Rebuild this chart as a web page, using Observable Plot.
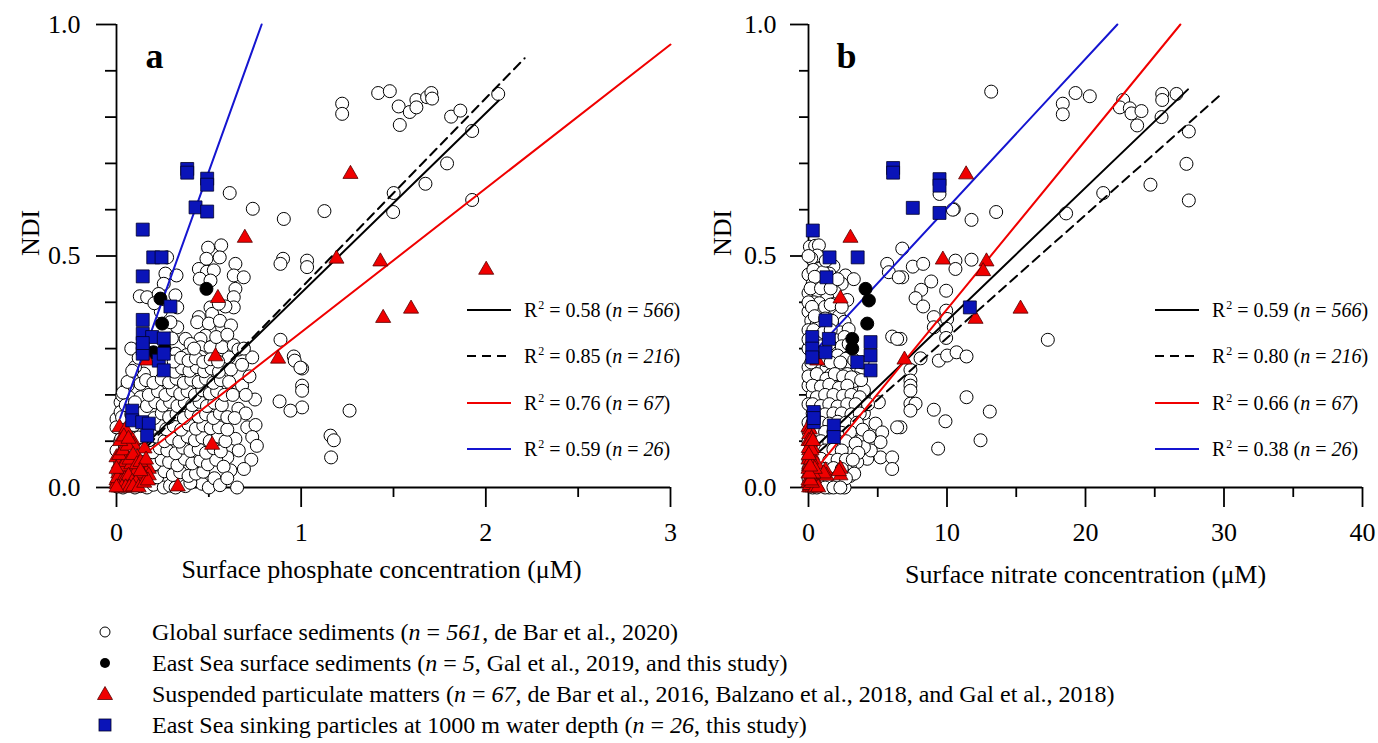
<!DOCTYPE html>
<html><head><meta charset="utf-8">
<script src="https://cdn.jsdelivr.net/npm/d3@7"></script>
<script src="https://cdn.jsdelivr.net/npm/@observablehq/plot@0.6"></script>
<style>
body{margin:0;background:#fff;}
#wrap{position:relative;width:1378px;height:743px;font-family:"Liberation Serif","Times New Roman",serif;color:#000;overflow:hidden;}
.panel{position:absolute;top:0;}
.panel svg{max-width:none!important;}
.leg{position:absolute;display:flex;align-items:center;height:26px;font-size:20px;white-space:nowrap;}
.sup{font-size:12px;position:relative;top:-8px;margin-left:1px;}
.brow{position:absolute;display:flex;align-items:center;height:30px;font-size:24px;white-space:nowrap;}
</style></head>
<body><div id="wrap"></div>
<script>
// ---------- tick values ----------
const yTicksMajor = [0, 0.5, 1];
const yTicksMinor = [0.1, 0.2, 0.3, 0.4, 0.6, 0.7, 0.8, 0.9];
const xTicksMajorA = [0, 1, 2, 3];
const xTicksMinorA = [0.5, 1.5, 2.5];
const xTicksMajorB = [0, 10, 20, 30, 40];
const xTicksMinorB = [5, 15, 25, 35];

// ---------- panel a: NDI vs surface phosphate ----------
const circlesA = [
[1.417,0.852],[1.480,0.856],[1.222,0.829],[1.222,0.807],[1.528,0.823],[1.588,0.811],[1.624,0.837],[1.624,0.821],[1.682,0.843],[1.705,0.852],[1.709,0.840],[1.534,0.783],[1.812,0.801],[1.862,0.814],[2.067,0.850],[1.926,0.770],[1.790,0.700],[1.673,0.656],[1.501,0.636],[1.498,0.595],[1.926,0.621],[1.126,0.597],[1.032,0.490],[1.032,0.476],[1.005,0.257],[1.005,0.220],[1.005,0.209],[1.005,0.173],[1.262,0.166],[1.159,0.112],[1.177,0.102],[1.162,0.065],
[0.613,0.636],[0.738,0.602],[0.906,0.580],[0.902,0.494],[0.888,0.483],[0.888,0.319],[0.960,0.283],[0.965,0.274],[0.996,0.259],[0.883,0.186],[0.942,0.166],
[0.708,0.130],[0.753,0.135],[0.735,0.109],[0.644,0.105],[0.662,0.080],[0.600,0.065],[0.617,0.037],[0.653,0.000],[0.464,0.008],[0.735,0.281],[0.608,0.281],
[0.496,0.518],[0.567,0.523],[0.487,0.494],[0.559,0.497],[0.446,0.472],[0.490,0.466],[0.527,0.469],[0.644,0.483],[0.635,0.458],[0.689,0.454],[0.451,0.451],[0.509,0.447],[0.274,0.497],[0.265,0.462],[0.325,0.458],[0.256,0.440],[0.644,0.429],[0.635,0.411],[0.319,0.415],[0.126,0.413],[0.166,0.411],[0.509,0.389],[0.518,0.375],[0.635,0.389],[0.590,0.391],[0.554,0.397],[0.329,0.389],[0.446,0.368],[0.437,0.357],[0.500,0.354],[0.572,0.346],[0.329,0.346],[0.292,0.357],[0.482,0.328],[0.455,0.321],[0.374,0.321],[0.401,0.310],[0.455,0.303],[0.509,0.303],[0.572,0.303],[0.635,0.307],[0.319,0.289],[0.380,0.286],[0.455,0.282],[0.300,0.322],[0.240,0.380],[0.228,0.418],[0.205,0.398],[0.560,0.360],[0.620,0.350],[0.660,0.298],[0.690,0.300],
[0.112,0.231],[0.148,0.246],[0.130,0.224],[0.067,0.195],[0.022,0.184],[0.130,0.195],[0.000,0.148],[0.022,0.163],[0.031,0.199],[0.094,0.181],[0.100,0.260],[0.060,0.220],[0.080,0.300],[0.120,0.280],[0.050,0.120],[0.020,0.100],
[0.005,0.002],[0.035,0.000],[0.068,0.004],[0.100,0.000],[0.130,0.003],[0.165,0.000],[0.200,0.006],[0.256,0.000],[0.290,0.004],[0.320,0.000],[0.373,0.003],[0.500,0.000],[0.400,0.010],
[0.010,0.030],[0.050,0.025],[0.090,0.032],[0.140,0.028],[0.185,0.030],[0.220,0.022],[0.260,0.035],[0.305,0.027],[0.345,0.033],[0.390,0.025],[0.430,0.030],[0.470,0.034],[0.530,0.020],
[0.020,0.055],[0.070,0.060],[0.115,0.052],[0.160,0.058],[0.205,0.050],[0.245,0.060],[0.285,0.055],[0.330,0.048],[0.370,0.062],[0.410,0.052],[0.455,0.058],[0.495,0.050],[0.540,0.060],[0.580,0.045],
[0.000,0.080],[0.045,0.085],[0.095,0.078],[0.150,0.082],[0.195,0.076],[0.235,0.085],[0.275,0.080],[0.320,0.074],[0.360,0.086],[0.400,0.079],[0.445,0.083],[0.485,0.075],[0.525,0.085],[0.565,0.078],
[0.025,0.105],[0.070,0.100],[0.120,0.108],[0.175,0.102],[0.215,0.110],[0.260,0.100],[0.300,0.106],[0.340,0.099],[0.385,0.110],[0.425,0.102],[0.465,0.108],[0.505,0.100],[0.550,0.110],[0.590,0.100],
[0.000,0.130],[0.045,0.128],[0.095,0.135],[0.190,0.128],[0.230,0.135],[0.270,0.126],[0.310,0.133],[0.350,0.125],[0.390,0.136],[0.430,0.127],[0.470,0.134],[0.510,0.128],[0.555,0.130],[0.600,0.125],
[0.030,0.152],[0.080,0.158],[0.205,0.150],[0.245,0.160],[0.285,0.152],[0.325,0.158],[0.365,0.150],[0.405,0.160],[0.445,0.153],[0.485,0.158],[0.525,0.150],[0.560,0.160],[0.600,0.152],
[0.050,0.178],[0.100,0.184],[0.165,0.176],[0.210,0.184],[0.250,0.177],[0.290,0.185],[0.330,0.176],[0.370,0.183],[0.410,0.178],[0.450,0.185],[0.490,0.176],[0.530,0.183],[0.570,0.178],
[0.035,0.205],[0.175,0.200],[0.225,0.208],[0.265,0.200],[0.305,0.210],[0.345,0.202],[0.385,0.208],[0.425,0.200],[0.465,0.210],[0.505,0.203],[0.545,0.208],[0.585,0.200],
[0.060,0.228],[0.160,0.232],[0.200,0.226],[0.245,0.234],[0.285,0.227],[0.325,0.235],[0.365,0.226],[0.405,0.233],[0.445,0.228],[0.485,0.235],[0.525,0.226],[0.565,0.232],[0.610,0.228],
[0.085,0.252],[0.275,0.255],[0.315,0.250],[0.355,0.258],[0.395,0.252],[0.435,0.260],[0.475,0.251],[0.515,0.257],[0.555,0.250],[0.620,0.255],
[0.270,0.278],[0.310,0.272],[0.350,0.280],[0.390,0.274],[0.430,0.279],[0.470,0.271],[0.510,0.277],[0.550,0.272],
[0.630,0.200],[0.660,0.170],[0.700,0.160],[0.680,0.220],[0.720,0.240],[0.750,0.190],[0.640,0.150],
[0.420,0.300],[0.540,0.325],[0.600,0.330],[0.680,0.265],[0.700,0.200],[0.730,0.060],[0.690,0.040],[0.560,0.005],[0.600,0.020],[0.760,0.090]
];
const blackA = [[0.487,0.429],[0.238,0.408],[0.247,0.354],[0.200,0.292],[0.260,0.300]];
const trianglesA = [
[1.267,0.677],[0.695,0.539],[1.191,0.494],[1.429,0.488],[2.002,0.470],[1.595,0.386],[1.444,0.366],[0.549,0.409],[0.536,0.283],[0.875,0.278],[0.518,0.092],[0.332,0.002],[0.166,0.274],
[0.016,0.130],[0.049,0.125],[0.088,0.101],[0.092,0.092],[0.152,0.084],[0.000,0.065],[0.058,0.065],[0.112,0.065],[0.013,0.051],[0.121,0.044],[0.175,0.040],[0.175,0.026],[0.076,0.037],[0.031,0.030],[0.000,0.015],[0.058,0.008],[0.000,0.008],[0.020,0.000],[0.040,0.005],[0.010,0.030],[0.030,0.045],[0.050,0.055],[0.080,0.050],[0.100,0.030],[0.120,0.020],[0.140,0.030],[0.005,0.020],[0.025,0.012],[0.045,0.018],[0.065,0.025],[0.085,0.012],[0.105,0.010],[0.000,0.040],[0.015,0.070],[0.035,0.080],[0.060,0.090],[0.070,0.060],[0.090,0.070],[0.110,0.050],[0.130,0.055],[0.160,0.060],[0.020,0.100],[0.040,0.110],[0.065,0.105],[0.010,0.000],[0.030,0.000],[0.050,0.000],[0.070,0.000],[0.090,0.002],[0.000,0.000],[0.120,0.000],[0.150,0.010],[0.170,0.015],[0.130,0.035]
];
const squaresA = [
[0.383,0.688],[0.383,0.680],[0.491,0.667],[0.491,0.654],[0.428,0.605],[0.491,0.596],[0.142,0.557],[0.199,0.497],[0.244,0.497],[0.142,0.456],[0.292,0.391],[0.142,0.362],[0.142,0.332],[0.193,0.325],[0.256,0.322],[0.142,0.300],[0.142,0.289],[0.229,0.274],[0.256,0.289],[0.256,0.253],[0.085,0.166],[0.085,0.145],[0.139,0.141],[0.175,0.138],[0.166,0.112],[0.142,0.312]
];
// regression fits (intercept a, slope b, fitted x-range)
const fitKeys = ["all", "sed", "spm", "trap"];
const fitsA = [
  {key:"all",  x0:0.15,  x1:2.07, a:0.0317, b:0.3885},
  {key:"sed",  x0:0.17,  x1:2.21, a:0.021,  b:0.41},
  {key:"spm",  x0:0.166, x1:3.0,  a:0.0244, b:0.3108},
  {key:"trap", x0:0.02,  x1:0.786,a:0.128,  b:1.11}
];
const r2A = ["0.58", "0.85", "0.76", "0.59"];
const nFit = ["566", "216", "67", "26"];

// ---------- panel b: NDI vs surface nitrate ----------
const circlesB = [
[13.19,0.855],[18.36,0.829],[18.36,0.806],[19.28,0.852],[20.31,0.845],[22.72,0.837],[22.48,0.821],[23.2,0.819],[23.32,0.808],[24.04,0.813],[23.73,0.782],[25.54,0.850],[25.54,0.837],[25.49,0.800],[26.57,0.850],[27.46,0.769],[27.29,0.699],[24.69,0.654],[21.28,0.636],[27.46,0.620],[18.6,0.592],[13.55,0.595],[11.77,0.578],[10.49,0.601],[9.46,0.634],[10.42,0.600],
[6.77,0.516],[7.53,0.477],[8.28,0.483],[6.77,0.454],[10.61,0.490],[10.61,0.472],[11.77,0.492],[8.86,0.445],[8.14,0.427],[7.73,0.409],[8.28,0.391],[9.94,0.425],[9.94,0.382],[10.01,0.364],[9.94,0.343],[9.94,0.323],[17.28,0.319],[8.09,0.279],[9.41,0.274],[10.01,0.285],[10.69,0.292],[11.41,0.283],[7.36,0.254],[7.36,0.231],[7.36,0.220],[7.36,0.209],[7.36,0.181],[7.73,0.181],[7.36,0.166],[9.05,0.168],[9.89,0.143],[11.41,0.195],[13.09,0.164],[9.36,0.084],[12.42,0.102],[6.64,0.130],[6.64,0.321],
[5.68,0.483],[5.8,0.465],[6.52,0.454],[6.04,0.326],[6.4,0.321],[5.08,0.184],[6.4,0.130],[4.12,0.138],[4.84,0.138],[5.32,0.119],[5.2,0.098],[3.75,0.109],[5.2,0.065],[6.04,0.065],[6.04,0.040],[4.24,0.062],[3.52,0.055],[3.03,0.040],[9.05,0.368],[9.05,0.346],
[0.1,0.52],[0.48,0.522],[0.75,0.523],[0.63,0.501],[0.2,0.495],[0.72,0.472],[1.8,0.478],[0.0,0.46],[2.67,0.458],[1.5,0.462],[3.27,0.45],
[0.3,0.44],[1.1,0.445],[2.4,0.44],[0.0,0.42],[0.72,0.418],[1.9,0.422],[1.35,0.41],[0.4,0.40],[0.78,0.398],[1.8,0.396],[2.8,0.405],
[0.0,0.38],[0.7,0.38],[1.5,0.375],[1.95,0.385],[2.2,0.37],[0.2,0.36],[0.9,0.362],[1.92,0.345],[2.6,0.358],[0.0,0.34],[0.6,0.353],[2.3,0.335],[2.9,0.342],
[0.7,0.32],[2.0,0.318],[2.6,0.325],[0.0,0.30],[1.8,0.30],[2.4,0.305],[0.5,0.29],[0.9,0.28],[2.1,0.285],[2.7,0.278],
[0.0,0.26],[0.6,0.265],[1.3,0.258],[1.9,0.262],[2.5,0.255],[3.1,0.26],[3.8,0.25],[0.3,0.24],[0.9,0.235],[1.6,0.243],[2.2,0.238],[2.8,0.245],[3.4,0.236],[0.0,0.22],[0.6,0.215],[1.2,0.224],[1.9,0.218],[2.5,0.225],[3.1,0.215],[3.7,0.222],[0.3,0.2],[0.9,0.205],[1.5,0.198],[2.2,0.203],[2.8,0.196],[3.4,0.205],[4.0,0.2],
[0.0,0.18],[0.6,0.184],[1.2,0.176],[1.8,0.182],[2.5,0.178],[3.1,0.185],[3.7,0.175],[0.3,0.16],[0.9,0.155],[1.5,0.163],[2.1,0.158],[2.8,0.165],[3.4,0.155],[4.0,0.16],[0.0,0.14],[0.6,0.136],[1.2,0.144],[2.4,0.138],[3.0,0.145],[0.3,0.12],[0.9,0.124],[1.5,0.116],[2.1,0.123],[2.7,0.118],[3.3,0.125],
[0.0,0.1],[0.6,0.096],[1.2,0.104],[2.4,0.098],[3.0,0.105],[0.3,0.08],[0.9,0.084],[1.5,0.076],[2.1,0.083],[2.7,0.078],[3.15,0.077],[4.5,0.08],[4.0,0.087],[0.0,0.06],[0.6,0.064],[1.2,0.056],[1.8,0.062],[2.4,0.058],[0.3,0.04],[0.9,0.044],[1.5,0.036],[2.1,0.043],[2.7,0.038],[0.0,0.02],[0.6,0.024],[1.2,0.016],[1.8,0.022],[2.4,0.018],[3.0,0.025],[0.3,0.0],[0.9,0.004],[1.5,0.0],[2.1,0.003],[2.6,0.0],
[0.0,0.50],[0.0,0.40],[0.0,0.32],[0.0,0.24],[0.0,0.12],[0.0,0.04],[3.3,0.23],[4.0,0.21],[3.5,0.19],
[0.35,0.47],[1.05,0.465],[1.25,0.49],[0.45,0.455],[0.15,0.43],[0.9,0.43],[1.6,0.43],[2.1,0.45],
[0.25,0.39],[1.2,0.39],[1.6,0.395],[2.4,0.39],[0.45,0.37],[1.2,0.365],[1.7,0.36],[0.35,0.34],[1.1,0.335],[1.6,0.34],
[0.4,0.31],[0.9,0.305],[1.5,0.31],[2.9,0.31],[0.2,0.27],[1.2,0.275],[1.6,0.27],[2.3,0.27],[3.3,0.275],[3.9,0.27],
[0.6,0.245],[1.3,0.235],[1.9,0.245],[2.5,0.24],[3.1,0.238],[3.8,0.232],
[0.3,0.22],[0.9,0.218],[1.5,0.222],[2.2,0.215],[2.8,0.22],[0.6,0.195],[1.2,0.2],[1.8,0.2],[2.5,0.198],[3.1,0.2],[3.7,0.195],
[0.3,0.18],[0.9,0.176],[1.5,0.18],[2.1,0.175],[2.8,0.18],[3.4,0.18],[4.3,0.18],[0.6,0.16],[1.2,0.158],[1.8,0.16],[2.4,0.16],[3.1,0.158],[3.7,0.16],
[0.3,0.14],[0.9,0.14],[1.5,0.138],[2.1,0.142],[2.7,0.14],[3.5,0.14],[0.6,0.118],[1.2,0.12],[1.8,0.12],[2.4,0.118],[3.0,0.12],[3.9,0.125],
[0.3,0.1],[0.9,0.1],[1.5,0.098],[2.1,0.1],[2.7,0.1],[3.4,0.095],[4.4,0.11],[0.6,0.08],[1.2,0.08],[1.8,0.082],[2.4,0.08],[3.6,0.075],
[0.3,0.06],[0.9,0.062],[1.5,0.058],[2.1,0.06],[2.7,0.06],[3.2,0.06],[0.6,0.04],[1.2,0.04],[1.8,0.042],[2.4,0.04],[3.3,0.03],[0.3,0.02],[0.9,0.02],[1.5,0.02],[2.1,0.022],[2.7,0.02],[0.6,0.0],[1.2,0.0],[1.8,0.0],[2.3,0.0]
];
const blackB = [[4.12,0.429],[4.36,0.404],[4.24,0.354],[3.16,0.321],[3.16,0.300]];
const trianglesB = [
[11.38,0.676],[3.03,0.539],[9.7,0.492],[12.85,0.488],[12.61,0.467],[15.31,0.386],[12.06,0.364],[6.93,0.276],[2.31,0.408],[0.63,0.274],
[0.0,0.13],[0.1,0.125],[0.05,0.115],[0.2,0.105],[0.0,0.10],[0.15,0.09],[0.3,0.085],[0.05,0.08],[0.25,0.07],[0.1,0.065],[0.0,0.06],[0.35,0.058],[0.2,0.05],[0.05,0.045],[0.3,0.04],[0.15,0.035],[0.0,0.03],[0.25,0.025],[0.1,0.02],[0.4,0.02],[0.0,0.01],[0.2,0.008],[0.35,0.005],[0.05,0.0],[0.15,0.0],[0.3,0.0],[0.45,0.0],[0.6,0.005],[0.5,0.03],[0.6,0.05],[1.23,0.037],[1.3,0.025],[2.31,0.040],[2.31,0.026],[2.2,0.035],[1.1,0.03],[0.0,0.015],[0.1,0.005],[0.2,0.02],[0.4,0.01],[0.08,0.05],[0.18,0.06],[0.28,0.045],[0.12,0.1],[0.02,0.085],[0.22,0.08],[0.32,0.1],[0.0,0.04],[0.5,0.0],[0.7,0.0],[0.25,0.01],[0.15,0.015],[0.35,0.03],[0.45,0.04],[0.06,0.03],[0.12,0.045],[0.02,0.07]
];
const squaresB = [
[6.11,0.690],[6.11,0.680],[9.46,0.666],[9.46,0.652],[7.53,0.604],[9.46,0.593],[0.31,0.555],[1.52,0.497],[3.55,0.497],[1.3,0.454],[1.23,0.361],[0.27,0.325],[1.47,0.321],[0.27,0.300],[1.23,0.292],[0.27,0.281],[4.48,0.314],[4.48,0.285],[4.48,0.253],[3.52,0.271],[11.65,0.389],[0.38,0.163],[0.38,0.141],[1.83,0.134],[1.83,0.109],[0.38,0.150]
];
const fitsB = [
  {key:"all",  x0:0,    x1:27.4,  a:0.073, b:0.02872},
  {key:"sed",  x0:0,    x1:29.9,  a:0.057, b:0.02659},
  {key:"spm",  x0:0.38, x1:26.85, a:0.020, b:0.0365},
  {key:"trap", x0:0,    x1:22.3,  a:0.28,  b:0.0323}
];
const r2B = ["0.59", "0.80", "0.66", "0.38"];

// ---------- bottom legend ----------
const groupLabels = [
  "Global surface sediments (<i>n</i> = <i>561</i>, de Bar et al., 2020)",
  "East Sea surface sediments (<i>n</i> = <i>5</i>, Gal et al., 2019, and this study)",
  "Suspended particulate matters (<i>n</i> = <i>67</i>, de Bar et al., 2016, Balzano et al., 2018, and Gal et al., 2018)",
  "East Sea sinking particles at 1000 m water depth (<i>n</i> = <i>26</i>, this study)"
];

// ---------- styles ----------
const RED = "#f00000", BLUE = "#0a14b8", BLUELINE = "#1515d0";
const fitStyle = {
  all:  {stroke:"#000", dash:null},
  sed:  {stroke:"#000", dash:"9,6"},
  spm:  {stroke:"#f00000", dash:null},
  trap: {stroke:BLUELINE, dash:null}
};
const FONT = "'Liberation Serif','Times New Roman',serif";

function panel(cfg) {
  const P = d => ({x: d[0], y: d[1]});
  const lineMarks = cfg.fits.map(f => {
    const pts = [f.x0, f.x1].map(x => ({x, y: Math.min(1, f.a + f.b * x)}));
    const st = fitStyle[f.key];
    return Plot.line(pts, {x:"x", y:"y", stroke: st.stroke, strokeWidth: 2, strokeDasharray: st.dash || undefined});
  });
  return Plot.plot({
    width: cfg.width, height: 600,
    marginLeft: cfg.ml, marginRight: cfg.mr, marginTop: 24, marginBottom: 113,
    x: {domain: cfg.xDomain},
    y: {domain: [0, 1]},
    style: {fontFamily: FONT, fontSize: "26px", background: "transparent", overflow: "visible", color: "#000"},
    marks: [
      Plot.axisY(yTicksMajor, {tickSize: cfg.ytick, tickPadding: cfg.ypad, tickFormat: d3.format(".1f"), label: null, strokeWidth: 1.8, fontSize: 26}),
      Plot.axisY(yTicksMinor, {tickSize: cfg.ytickMinor, tickFormat: () => "", label: null, strokeWidth: 1.8}),
      Plot.axisX(cfg.xMajor, {tickSize: 20, tickPadding: 15, tickFormat: d => String(d), label: null, strokeWidth: 1.8, fontSize: 26}),
      Plot.axisX(cfg.xMinor, {tickSize: 10, tickFormat: () => "", label: null, strokeWidth: 1.8}),
      Plot.ruleX([cfg.xDomain[0]], {y1: 0, y2: 1, strokeWidth: 1.8}),
      Plot.ruleY([0], {x1: cfg.xDomain[0], x2: cfg.xDomain[1], strokeWidth: 1.8}),
      Plot.dot(cfg.circles.map(P), {x:"x", y:"y", r: 6.5, fill: "white", stroke: "black", strokeWidth: 1}),
      ...lineMarks,
      Plot.dot(cfg.blacks.map(P), {x:"x", y:"y", r: 6.5, fill: "black", stroke: "black", strokeWidth: 1}),
      Plot.dot(cfg.tris.map(P), {x:"x", y:"y", symbol: "triangle", r: 5.6, fill: RED, stroke: "#500", strokeWidth: 0.8}),
      Plot.dot(cfg.squares.map(P), {x:"x", y:"y", symbol: "square", r: 7.3, fill: BLUE, stroke: "#000028", strokeWidth: 0.8}),
      Plot.text(["NDI"], {frameAnchor: "left", dx: cfg.ndiDx, rotate: -90, fontSize: 26}),
      Plot.text([cfg.xTitle], {frameAnchor: "bottom", dx: cfg.titleDx, dy: cfg.titleDy, fontSize: 26}),
      Plot.text([cfg.letter], {frameAnchor: "top-left", dx: 38, dy: 18, fontSize: 36, fontWeight: "bold", textAnchor: "middle"})
    ]
  });
}

const wrap = document.getElementById("wrap");
function place(node, left) {
  const d = document.createElement("div");
  d.className = "panel"; d.style.left = left + "px";
  d.appendChild(node); wrap.appendChild(d);
}

place(panel({width: 690, ml: 116, mr: 20, xDomain: [0, 3], xMajor: xTicksMajorA, xMinor: xTicksMinorA,
  circles: circlesA, blacks: blackA, tris: trianglesA, squares: squaresA, fits: fitsA,
  ytick: 20, ytickMinor: 11, ypad: 16, ndiDx: -86,
  xTitle: "Surface phosphate concentration (μM)", titleDx: -12, titleDy: 90, letter: "a"}), 0);

place(panel({width: 688, ml: 118, mr: 16, xDomain: [0, 40], xMajor: xTicksMajorB, xMinor: xTicksMinorB,
  circles: circlesB, blacks: blackB, tris: trianglesB, squares: squaresB, fits: fitsB,
  ytick: 18, ytickMinor: 9, ypad: 14, ndiDx: -86,
  xTitle: "Surface nitrate concentration (μM)", titleDx: 0, titleDy: 95, letter: "b"}), 690);

// in-panel legends
function inLegend(left, r2s) {
  const rowsY = [310, 356, 403, 449];
  fitKeys.forEach((k, i) => {
    const st = fitStyle[k];
    const d = document.createElement("div");
    d.className = "leg";
    d.style.left = left + "px"; d.style.top = (rowsY[i] - 13) + "px";
    d.innerHTML = `<svg width="44" height="26"><line x1="0" x2="44" y1="13" y2="13" stroke="${st.stroke}" stroke-width="2" ${st.dash ? `stroke-dasharray="${st.dash}"` : ""}/></svg>` +
      `<span style="margin-left:13px">R<span class="sup">2</span> = ${r2s[i]} (<i>n</i> = <i>${nFit[i]}</i>)</span>`;
    wrap.appendChild(d);
  });
}
inLegend(467, r2A);
inLegend(1155, r2B);

// bottom legend
const symbolsSvg = [
  `<svg width="24" height="24"><circle cx="12" cy="12" r="5" fill="white" stroke="black" stroke-width="1"/></svg>`,
  `<svg width="24" height="24"><circle cx="12" cy="12" r="5" fill="black"/></svg>`,
  `<svg width="24" height="24"><path d="M12,4.5 L19.5,17.5 L4.5,17.5 Z" fill="${RED}" stroke="#500" stroke-width="0.8"/></svg>`,
  `<svg width="24" height="24"><rect x="6" y="6" width="12" height="12" fill="${BLUE}" stroke="#000028" stroke-width="0.8"/></svg>`
];
const bRowsY = [632, 663, 694, 725];
groupLabels.forEach((lab, i) => {
  const d = document.createElement("div");
  d.className = "brow";
  d.style.left = "93px"; d.style.top = (bRowsY[i] - 15) + "px";
  d.innerHTML = symbolsSvg[i] + `<span style="margin-left:35px">${lab}</span>`;
  wrap.appendChild(d);
});
</script>
</body></html>
